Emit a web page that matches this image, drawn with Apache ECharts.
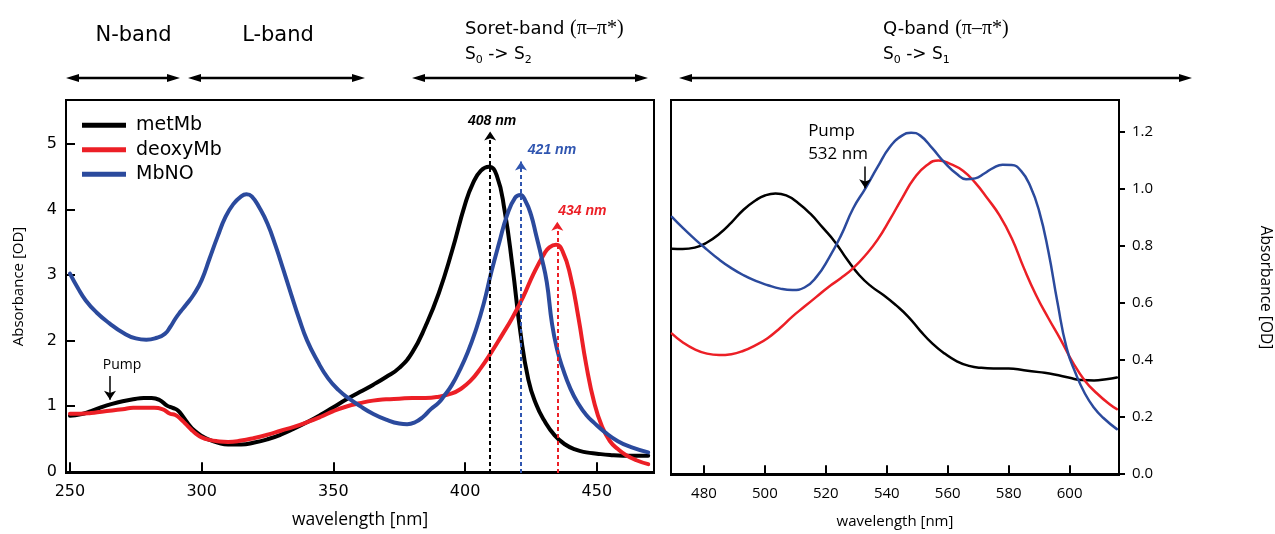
<!DOCTYPE html>
<html><head><meta charset="utf-8">
<script src="https://cdn.jsdelivr.net/npm/echarts@6/dist/echarts.min.js"></script>
<style>html,body{margin:0;padding:0;background:#fff}#c{width:1275px;height:534px}</style>
</head><body><div id="c"></div>
<script>
// ---------- data ----------
const seriesNames = ['metMb', 'deoxyMb', 'MbNO'];
const uvTicksX = [250, 300, 350, 400, 450];
const uvTicksY = [0, 1, 2, 3, 4, 5];
const visTicksX = [480, 500, 520, 540, 560, 580, 600];
const visTicksY = [0, 0.2, 0.4, 0.6, 0.8, 1.0, 1.2];

// N / L / Soret region (left panel)
const metMbUvWl = [250,254,258,262,266,270,274,278,281,284,287,289,291,293,295,297,300,303,306,310,315,320,325,330,335,340,345,350,355,360,365,370,375,380,385,390,395,400,403,406,409,412,415,418,421,424,427,430,434,438,442,446,450,455,460,465,469.5];
const metMbUvAbs = [0.85,0.87,0.92,0.98,1.03,1.07,1.10,1.12,1.12,1.09,1.00,0.97,0.93,0.83,0.72,0.63,0.54,0.48,0.44,0.41,0.41,0.44,0.49,0.56,0.65,0.75,0.86,0.98,1.10,1.21,1.32,1.44,1.58,1.82,2.22,2.72,3.36,4.08,4.40,4.59,4.65,4.52,3.98,3.12,2.12,1.40,1.02,0.78,0.55,0.41,0.33,0.29,0.27,0.25,0.24,0.24,0.24];
const deoxyMbUvWl = [250,254,258,262,266,270,274,278,282,285,288,290,292,294,296,298,300,303,306,310,315,320,325,330,335,340,345,350,355,360,365,370,375,380,385,390,395,398,402,406,410,414,418,422,426,430,432,434.5,437,440,443,446,449,452,455,458,461,465,469.5];
const deoxyMbUvAbs = [0.88,0.88,0.89,0.91,0.93,0.95,0.97,0.97,0.97,0.95,0.88,0.86,0.80,0.72,0.64,0.57,0.52,0.48,0.46,0.45,0.47,0.51,0.56,0.62,0.68,0.75,0.83,0.92,0.99,1.04,1.08,1.10,1.11,1.12,1.12,1.14,1.19,1.25,1.38,1.58,1.82,2.08,2.35,2.66,3.02,3.32,3.42,3.46,3.36,2.98,2.35,1.62,1.05,0.68,0.46,0.34,0.25,0.17,0.11];
const mbnoUvWl = [250,253,256,260,265,270,275,279,283,286,288,290,292,294,297,300,303,306,309,312,315,317,319,322,325,328,331,334,337,340,344,348,352,356,360,365,370,375,378,381,384,387,390,392,395,398,401,404,407,410,413,416,419,421,423,425,427,429,431,433,435,437,440,443,446,449,453,458,463,469.5];
const mbnoUvAbs = [3.02,2.80,2.61,2.43,2.26,2.12,2.03,2.01,2.04,2.10,2.20,2.33,2.44,2.54,2.70,2.92,3.25,3.58,3.88,4.08,4.20,4.23,4.20,4.02,3.78,3.45,3.08,2.70,2.33,2.00,1.68,1.42,1.24,1.11,1.00,0.88,0.79,0.73,0.72,0.75,0.83,0.95,1.05,1.15,1.32,1.55,1.82,2.15,2.55,3.05,3.50,3.92,4.18,4.22,4.12,3.92,3.60,3.27,2.89,2.25,1.85,1.58,1.26,1.03,0.86,0.74,0.60,0.46,0.37,0.29];

// Q region (right panel)
const metMbVisWl = [469.5,473,477,481,485,489,493,497,500,503.5,507,511,515,519,523,527,531,535,539,543,547,551,555,559,563,567,571,575,580,585,590,595,600,604,608,612,615.5];
const metMbVisAbs = [0.788,0.787,0.792,0.81,0.84,0.88,0.925,0.958,0.975,0.982,0.975,0.948,0.91,0.862,0.812,0.75,0.695,0.655,0.625,0.59,0.55,0.50,0.455,0.42,0.393,0.377,0.37,0.368,0.368,0.362,0.355,0.347,0.335,0.327,0.326,0.33,0.336];
const deoxyMbVisWl = [469.5,473,477,481,485,489,493,497,501,505,509,513,517,521,525,529,533,537,541,545,549,553,557,561,565,569,573,577,581,585,589,593,597,601,605,609,613,615.5];
const deoxyMbVisAbs = [0.49,0.46,0.435,0.42,0.415,0.418,0.43,0.45,0.475,0.51,0.55,0.585,0.62,0.655,0.685,0.72,0.765,0.82,0.89,0.965,1.035,1.08,1.098,1.085,1.062,1.02,0.965,0.905,0.825,0.72,0.625,0.545,0.47,0.39,0.325,0.28,0.243,0.225];
const mbnoVisWl = [469.5,473,477,481,485,489,493,497,501,505,509,513,517,521,525,529,533,537,541,545,548,551,555,559,563,566,569,572,575,578,581,584,587,590,593,596,599,602,605,608,611,615.5];
const mbnoVisAbs = [0.9,0.862,0.822,0.785,0.75,0.72,0.695,0.675,0.66,0.648,0.643,0.652,0.69,0.755,0.835,0.93,1.0,1.075,1.145,1.185,1.195,1.185,1.14,1.09,1.05,1.032,1.035,1.052,1.072,1.083,1.082,1.062,1.01,0.92,0.78,0.6,0.44,0.35,0.28,0.23,0.195,0.155];

// annotations
const peakWl = [409.5, 421.2, 435];
const peakTop = [5.19, 4.73, 3.81];
const peakText = ['408 nm', '421 nm', '434 nm'];
const pumpWl = [265.2, 532.9];
const pumpFrom = [1.455, 1.077];
const pumpTo = [1.095, 1.0];
const pumpText = ['Pump', 'Pump\n532 nm'];

// ---------- styles ----------
const COL = ['#000000', '#ec1f26', '#2b4a9d'];
const PEAKCOL = ['#000000', '#2f55b0', '#ec1f26'];
const UVX = {min: 248.5, max: 471.7};
const UVY = {min: -0.025, max: 5.67};
const VISX = {min: 469.2, max: 616.2};
const VISY = {min: -0.006, max: 1.31};
const peakOffset = [[2, -10], [31, -11], [25, -11]];

const zip = (a, b) => a.map((v, i) => [v, b[i]]);

function curve(name, wl, ab, idx, color, width) {
  return {
    type: 'line', name, xAxisIndex: idx, yAxisIndex: idx,
    data: zip(wl, ab), symbol: 'none', showSymbol: false,
    smooth: 0.5, silent: true,
    lineStyle: {color, width, cap: 'round', join: 'round'},
    itemStyle: {color}, z: 3
  };
}

const tickFontL = {fontFamily: 'DejaVu Sans', fontSize: 16, color: '#000'};
const tickFontR = {fontFamily: 'Open Sans', fontSize: 15, color: '#000'};

const uvMarkLines = peakWl.map((w, i) => {
  const ls = {color: PEAKCOL[i], type: [4, 3], width: 2};
  return [{coord: [w, UVY.min], lineStyle: ls}, {coord: [w, peakTop[i]], lineStyle: ls}];
});
uvMarkLines.push([
  {coord: [pumpWl[0], pumpFrom[0]], lineStyle: {color: '#000', type: 'solid', width: 1.5}},
  {coord: [pumpWl[0], pumpTo[0]], lineStyle: {color: '#000', type: 'solid', width: 1.5}}
]);
const uvMarkPoints = peakWl.map((w, i) => ({
  coord: [w, peakTop[i]],
  label: {show: true, formatter: peakText[i], color: PEAKCOL[i], offset: peakOffset[i],
          fontFamily: 'Liberation Sans', fontStyle: 'italic', fontWeight: 'bold', fontSize: 14}
}));
uvMarkPoints.push({
  coord: [pumpWl[0], pumpFrom[0]],
  label: {show: true, formatter: pumpText[0], color: '#000', offset: [12, -11],
          fontFamily: 'Open Sans', fontSize: 14}
});

function dblArrow(x1, x2, y) {
  return [
    {type: 'line', shape: {x1: x1 + 6, y1: y, x2: x2 - 6, y2: y}, style: {stroke: '#000', lineWidth: 2.5}},
    {type: 'polygon', shape: {points: [[x1, y], [x1 + 13, y - 4], [x1 + 13, y + 4]]}, style: {fill: '#000'}},
    {type: 'polygon', shape: {points: [[x2, y], [x2 - 13, y - 4], [x2 - 13, y + 4]]}, style: {fill: '#000'}}
  ];
}
const bandRich = {
  m: {fontFamily: 'DejaVu Sans', fontSize: 18, lineHeight: 24, color: '#000'},
  p: {fontFamily: 'Liberation Serif', fontSize: 20, lineHeight: 24, color: '#000'},
  t: {fontFamily: 'DejaVu Sans', fontSize: 17, lineHeight: 22, color: '#000'},
  s: {fontFamily: 'DejaVu Sans', fontSize: 11, lineHeight: 11, verticalAlign: 'bottom', color: '#000'}
};
function txt(x, y, text, align, rich, font) {
  return {type: 'text', x, y, silent: true,
    style: Object.assign({text, align, verticalAlign: 'middle', rich, fill: '#000'}, font || {})};
}

const graphics = [].concat(
  dblArrow(66, 180, 78), dblArrow(188, 365, 78), dblArrow(412, 648, 78), dblArrow(679, 1192, 78),
  [
    txt(133.5, 36, 'N-band', 'center', null, {fontFamily: 'DejaVu Sans', fontSize: 21}),
    txt(278, 36, 'L-band', 'center', null, {fontFamily: 'DejaVu Sans', fontSize: 21}),
    txt(465, 29, '{m|Soret-band }{p|(π–π*)}', 'left', bandRich),
    txt(465, 55, '{t|S}{s|0}{t| -> S}{s|2}', 'left', bandRich),
    txt(883, 29, '{m|Q-band }{p|(π–π*)}', 'left', bandRich),
    txt(883, 55, '{t|S}{s|0}{t| -> S}{s|1}', 'left', bandRich)
  ]
);

const option = {
  animation: false,
  backgroundColor: '#fff',
  graphic: graphics,
  legend: {
    data: seriesNames.map(n => ({name: n, icon: 'rect'})),
    orient: 'vertical', left: 82, top: 113, padding: 0,
    itemWidth: 44, itemHeight: 5, itemGap: 0,
    textStyle: {fontFamily: 'DejaVu Sans', fontSize: 19, lineHeight: 24.5, color: '#000', padding: [0, 0, 0, 5]},
    selectedMode: false
  },
  grid: [
    {left: 66, top: 100, width: 588, height: 376, show: true, borderColor: '#000', borderWidth: 2, backgroundColor: 'transparent'},
    {left: 671, top: 100, width: 448, height: 376, show: true, borderColor: '#000', borderWidth: 2, backgroundColor: 'transparent'}
  ],
  xAxis: [
    {type: 'value', gridIndex: 0, min: UVX.min, max: UVX.max,
     axisLine: {show: true, lineStyle: {color: '#000', width: 2}},
     axisTick: {show: true, inside: true, length: 9, customValues: uvTicksX, lineStyle: {color: '#000', width: 2}},
     axisLabel: Object.assign({customValues: uvTicksX, margin: 11}, tickFontL),
     splitLine: {show: false},
     name: 'wavelength [nm]', nameLocation: 'middle', nameGap: 38,
     nameTextStyle: {fontFamily: 'Open Sans', fontSize: 17.5, color: '#000'}},
    {type: 'value', gridIndex: 1, min: VISX.min, max: VISX.max,
     axisLine: {show: true, lineStyle: {color: '#000', width: 2}},
     axisTick: {show: true, inside: true, length: 8, customValues: visTicksX, lineStyle: {color: '#000', width: 2}},
     axisLabel: Object.assign({customValues: visTicksX, margin: 11}, tickFontR),
     splitLine: {show: false},
     name: 'wavelength [nm]', nameLocation: 'middle', nameGap: 39,
     nameTextStyle: {fontFamily: 'Open Sans', fontSize: 15, color: '#000'}}
  ],
  yAxis: [
    {type: 'value', gridIndex: 0, min: UVY.min, max: UVY.max,
     axisLine: {show: true, lineStyle: {color: '#000', width: 2}},
     axisTick: {show: true, inside: true, length: 9, customValues: uvTicksY, lineStyle: {color: '#000', width: 2}},
     axisLabel: Object.assign({customValues: uvTicksY, margin: 9}, tickFontL),
     splitLine: {show: false},
     name: 'Absorbance [OD]', nameLocation: 'middle', nameGap: 40, nameRotate: 90,
     nameTextStyle: {fontFamily: 'Open Sans', fontSize: 15, color: '#000'}},
    {type: 'value', gridIndex: 1, position: 'right', min: VISY.min, max: VISY.max,
     axisLine: {show: true, lineStyle: {color: '#000', width: 2}},
     axisTick: {show: true, inside: false, length: 6, customValues: visTicksY, lineStyle: {color: '#000', width: 2}},
     axisLabel: Object.assign({customValues: visTicksY, margin: 13, formatter: v => v.toFixed(1)}, tickFontR),
     splitLine: {show: false},
     name: 'Absorbance [OD]', nameLocation: 'middle', nameGap: 138, nameRotate: -90,
     nameTextStyle: {fontFamily: 'Open Sans', fontSize: 15.5, color: '#000'}}
  ],
  series: [
    curve('metMb', metMbUvWl, metMbUvAbs, 0, COL[0], 4),
    curve('deoxyMb', deoxyMbUvWl, deoxyMbUvAbs, 0, COL[1], 4),
    curve('MbNO', mbnoUvWl, mbnoUvAbs, 0, COL[2], 4),
    curve('metMb', metMbVisWl, metMbVisAbs, 1, COL[0], 2.5),
    curve('deoxyMb', deoxyMbVisWl, deoxyMbVisAbs, 1, COL[1], 2.5),
    curve('MbNO', mbnoVisWl, mbnoVisAbs, 1, COL[2], 2.5),
    {type: 'line', xAxisIndex: 0, yAxisIndex: 0, data: [], silent: true, z: 4,
     markLine: {silent: true, animation: false, symbol: ['none', 'arrow'], symbolSize: 9,
                label: {show: false}, data: uvMarkLines},
     markPoint: {silent: true, animation: false, symbol: 'circle', symbolSize: 1,
                 itemStyle: {color: 'rgba(0,0,0,0)'}, data: uvMarkPoints}},
    {type: 'line', xAxisIndex: 1, yAxisIndex: 1, data: [], silent: true, z: 4,
     markLine: {silent: true, animation: false, symbol: ['none', 'arrow'], symbolSize: 9,
                label: {show: false}, lineStyle: {color: '#000', type: 'solid', width: 1.5},
                data: [[{coord: [pumpWl[1], pumpFrom[1]]}, {coord: [pumpWl[1], pumpTo[1]]}]]},
     markPoint: {silent: true, animation: false, symbol: 'circle', symbolSize: 1,
                 itemStyle: {color: 'rgba(0,0,0,0)'},
                 data: [{coord: [pumpWl[1], pumpFrom[1]],
                         label: {show: true, formatter: pumpText[1], color: '#000', align: 'left',
                                 offset: [-57, -24], lineHeight: 23,
                                 fontFamily: 'Open Sans', fontSize: 17}}]}}
  ]
};

const chart = echarts.init(document.getElementById('c'), null, {renderer: 'canvas'});
chart.setOption(option);
</script>
</body></html>
